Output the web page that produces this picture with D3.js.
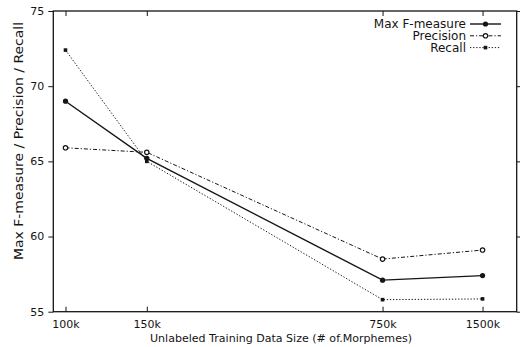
<!DOCTYPE html>
<html><head><meta charset="utf-8">
<script src="https://cdn.jsdelivr.net/npm/d3@7"></script>
<style>body{margin:0;background:#fff}svg{display:block}</style>
</head><body>
<svg id="c" width="520" height="347"></svg>
<script>
const categories = ["100k", "150k", "750k", "1500k"];
const xUnits = [1, 2, 4.9, 6.13];
const maxF = [69.0, 65.2, 57.1, 57.4];
const precision = [65.9, 65.6, 58.5, 59.1];
const recall = [72.4, 65.0, 55.8, 55.85];
const yTicks = [55, 60, 65, 70, 75];
const seriesNames = ["Max F-measure", "Precision", "Recall"];

const svg = d3.select("#c");
const pL = 53.3, pR = 516.7, pT = 11, pB = 311.7;
const x = d3.scaleLinear().domain([0.85, 6.55]).range([pL, pR]);
const y = d3.scaleLinear().domain([55, 75]).range([pB, pT]);
const font = "'DejaVu Sans', sans-serif";
const ink = "#151515";

// axes
const gL = svg.append("g").attr("transform", `translate(${pL},0)`)
  .call(d3.axisLeft(y).tickValues(yTicks).tickSize(5).tickPadding(4).tickFormat(d3.format("d")));
const gR = svg.append("g").attr("transform", `translate(${pR},0)`)
  .call(d3.axisLeft(y).tickValues(yTicks).tickSize(-5).tickFormat(""));
const gB = svg.append("g").attr("transform", `translate(0,${pB})`)
  .call(d3.axisBottom(x).tickValues(xUnits).tickSize(-5).tickPadding(16.8)
    .tickFormat((d, i) => categories[i]));
const gT = svg.append("g").attr("transform", `translate(0,${pT})`)
  .call(d3.axisTop(x).tickValues(xUnits).tickSize(-5).tickFormat(""));
[gL, gR, gB, gT].forEach(g => {
  g.select(".domain").remove();
  g.selectAll("line").attr("stroke", ink).attr("stroke-width", 1);
  g.selectAll("text").attr("fill", ink).style("font-family", font).style("font-size", "11px");
});
gL.selectAll("text").attr("dy", "0.3em");
gB.selectAll("text").attr("dy", "0");

svg.append("rect").attr("x", pL).attr("y", pT)
  .attr("width", pR - pL).attr("height", pB - pT)
  .attr("fill", "none").attr("stroke", ink).attr("stroke-width", 1.3);

// series
const series = [
  {name: seriesNames[0], vals: maxF, dash: null, w: 1.4, mark: "fcircle"},
  {name: seriesNames[1], vals: precision, dash: "4,2,1.2,2", w: 1, mark: "ocircle"},
  {name: seriesNames[2], vals: recall, dash: "1.3,1.8", w: 1, mark: "square"}
];
const line = d3.line().x((d, i) => x(xUnits[i])).y(d => y(d));

function marker(g, m, cx, cy) {
  if (m === "fcircle") g.append("circle").attr("cx", cx).attr("cy", cy).attr("r", 2.6).attr("fill", ink);
  else if (m === "ocircle") g.append("circle").attr("cx", cx).attr("cy", cy).attr("r", 2.2)
    .attr("fill", "#fff").attr("stroke", ink).attr("stroke-width", 1.2);
  else g.append("rect").attr("x", cx - 1.8).attr("y", cy - 1.8).attr("width", 3.6).attr("height", 3.6).attr("fill", ink);
}

series.forEach(s => {
  svg.append("path").datum(s.vals).attr("d", line).attr("fill", "none")
    .attr("stroke", ink).attr("stroke-width", s.w).attr("stroke-dasharray", s.dash);
  const g = svg.append("g");
  s.vals.forEach((v, i) => marker(g, s.mark, x(xUnits[i]), y(v)));
});

// legend
const legY = [24, 35.8, 47.6];
series.forEach((s, i) => {
  svg.append("text").attr("x", 466).attr("y", legY[i]).attr("dy", "0.36em")
    .attr("text-anchor", "end").attr("fill", ink)
    .style("font-family", font).style("font-size", "12px").text(s.name);
  svg.append("line").attr("x1", 470).attr("x2", 501).attr("y1", legY[i]).attr("y2", legY[i])
    .attr("stroke", ink).attr("stroke-width", s.w).attr("stroke-dasharray", s.dash);
  marker(svg, s.mark, 485.5, legY[i]);
});

// axis titles
svg.append("text").attr("x", 281).attr("y", 341.5).attr("text-anchor", "middle")
  .attr("fill", ink).style("font-family", font).style("font-size", "11.3px")
  .attr("textLength", 262).attr("lengthAdjust", "spacingAndGlyphs")
  .text("Unlabeled Training Data Size (# of.Morphemes)");
svg.append("text").attr("transform", "translate(23,141) rotate(-90)").attr("text-anchor", "middle")
  .attr("fill", ink).style("font-family", font).style("font-size", "11.5px")
  .attr("textLength", 238).attr("lengthAdjust", "spacingAndGlyphs")
  .text("Max F-measure / Precision / Recall");
</script>
</body></html>
